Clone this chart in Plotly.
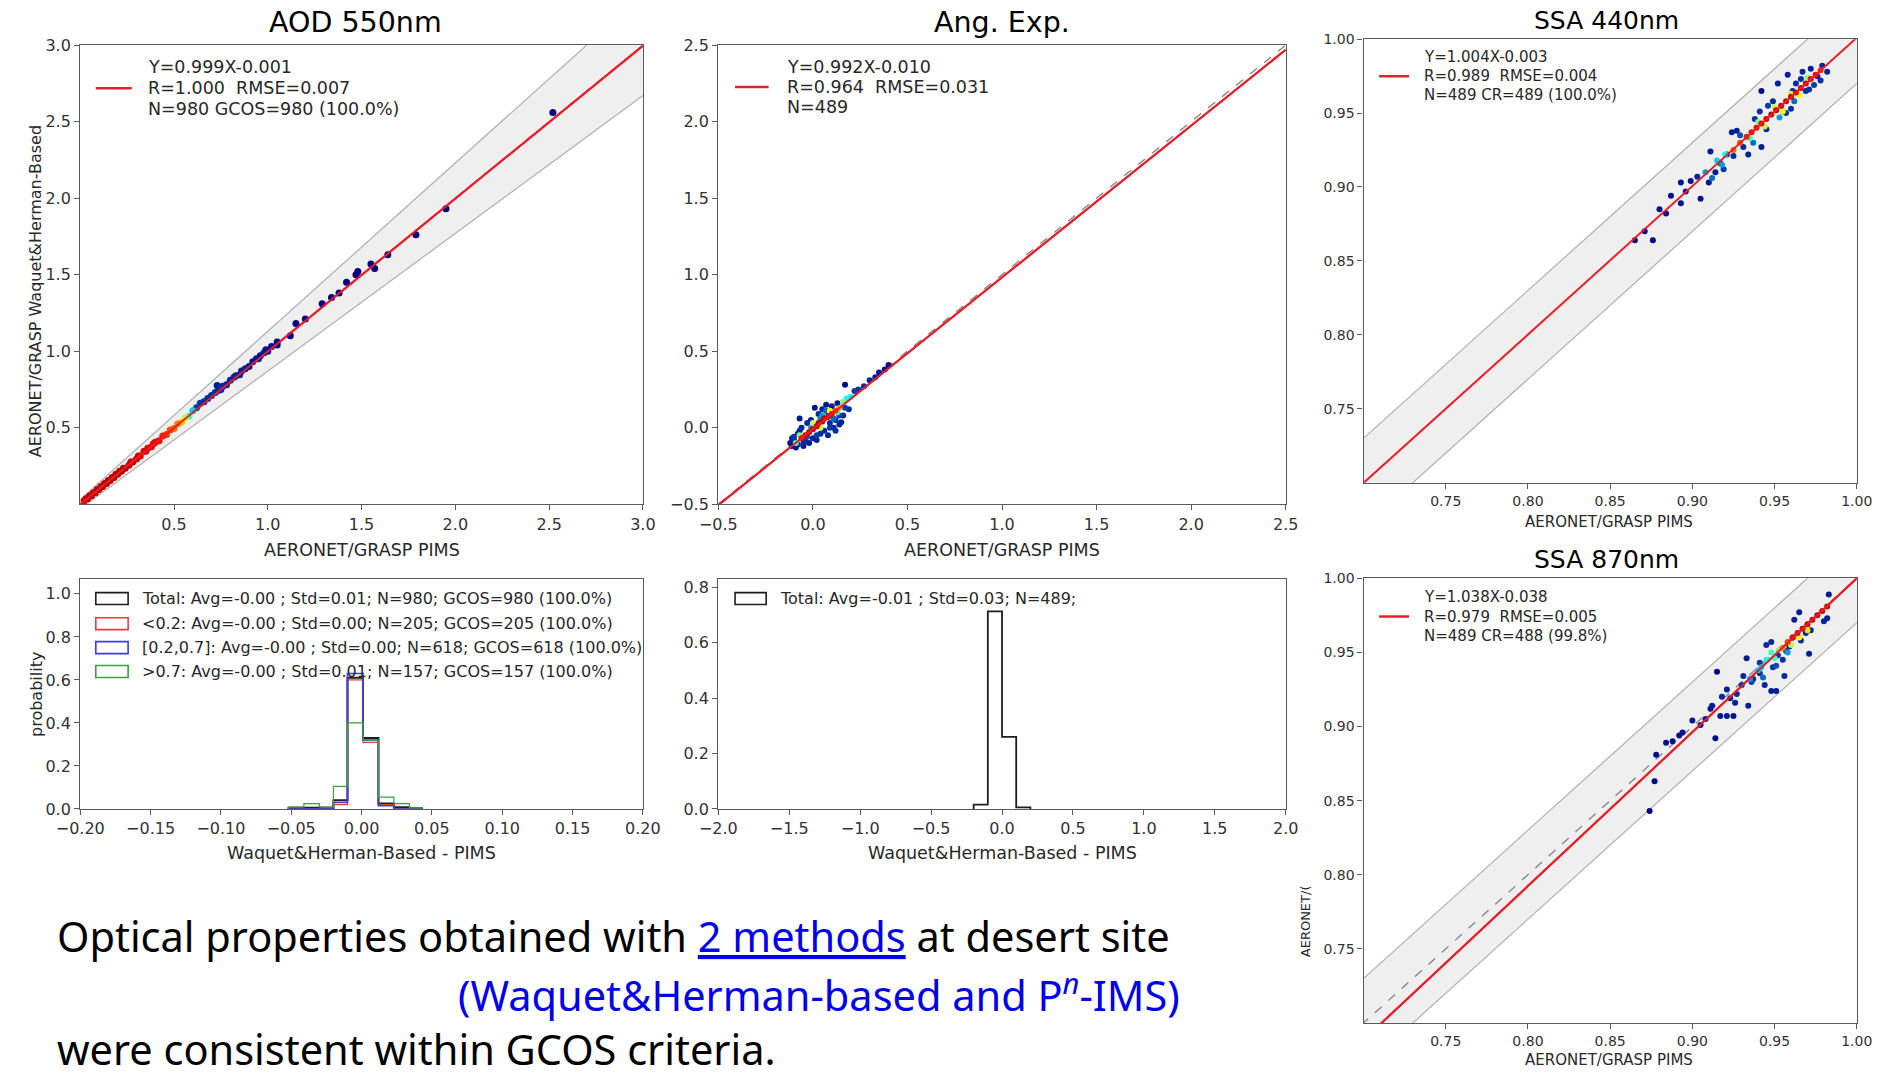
import plotly.graph_objects as go

# Layout positions are given in the coordinates of the reference as seen at 1568x896 (q),
# converted to figure pixels with the page placement observed in the photographs.
RW, RH = 1568, 896
OUT_W, OUT_H = 1879, 1074
W, H = 1920, 1090
SX, OX = 0.9786, 22.6
SY, OY = 0.9853, 8.1


def fx(q):
    return ((q * OUT_W / RW) - OX) / SX


def fy(q):
    return ((q * OUT_H / RH) - OY) / SY


def px(q):
    return max(fx(q), 3) / W


def py(q):
    return 1 - fy(q) / H


# ---------------- data ----------------
# AOD 550nm scatter (PIMS vs Waquet&Herman-based), density 0..1
aod_x = [0.02, 0.03, 0.04, 0.05, 0.06, 0.07, 0.08, 0.09, 0.10, 0.11, 0.12, 0.13, 0.14, 0.15, 0.16, 0.17, 0.18, 0.19,
         0.20, 0.21, 0.22, 0.23, 0.24, 0.26, 0.27, 0.28, 0.30, 0.31, 0.32, 0.34, 0.35, 0.36, 0.38, 0.39, 0.40, 0.42,
         0.44, 0.46, 0.48, 0.50, 0.52, 0.54, 0.56, 0.58, 0.60,
         0.62, 0.64, 0.66, 0.68, 0.70, 0.72, 0.73, 0.74, 0.75, 0.76, 0.78, 0.80, 0.82, 0.83, 0.85, 0.86, 0.88,
         0.90, 0.92, 0.94, 0.95, 0.96, 0.98, 0.99, 1.00, 1.02, 1.05, 1.05,
         1.12, 1.15, 1.20, 1.29, 1.34, 1.38, 1.42, 1.47, 1.48, 1.55, 1.57, 1.64, 1.79, 1.95, 2.52]
aod_y = [0.02, 0.035, 0.035, 0.055, 0.055, 0.075, 0.075, 0.095, 0.095, 0.115, 0.115, 0.135, 0.135, 0.155, 0.155,
         0.175, 0.175, 0.195, 0.195, 0.215, 0.215, 0.235, 0.235, 0.255, 0.275, 0.275, 0.295, 0.315, 0.315, 0.345,
         0.345, 0.365, 0.375, 0.395, 0.405, 0.415, 0.445, 0.455, 0.485, 0.495, 0.525, 0.535, 0.565, 0.575, 0.61,
         0.63, 0.66, 0.67, 0.69, 0.71, 0.73, 0.775, 0.745, 0.75, 0.77, 0.78, 0.81, 0.83, 0.84, 0.845, 0.87, 0.885,
         0.90, 0.93, 0.95, 0.95, 0.97, 0.99, 1.01, 1.00, 1.03, 1.04, 1.06,
         1.10, 1.18, 1.21, 1.31, 1.35, 1.38, 1.45, 1.50, 1.52, 1.57, 1.54, 1.63, 1.76, 1.93, 2.56]
aod_d = [0.85, 0.88, 0.88, 0.9, 0.9, 0.9, 0.9, 0.9, 0.9, 0.9, 0.9, 0.9, 0.9, 0.9, 0.9, 0.9, 0.9, 0.9,
         0.9, 0.9, 0.9, 0.9, 0.9, 0.88, 0.88, 0.88, 0.87, 0.87, 0.86, 0.86, 0.85, 0.85, 0.84, 0.83, 0.82, 0.8,
         0.78, 0.76, 0.74, 0.72, 0.7, 0.64, 0.55, 0.45, 0.35,
         0.2, 0.18, 0.16, 0.15, 0.15, 0.14, 0.1, 0.13, 0.14, 0.13, 0.12, 0.12, 0.11, 0.1, 0.1, 0.1, 0.1,
         0.08, 0.08, 0.08, 0.07, 0.07, 0.06, 0.06, 0.06, 0.05, 0.04, 0.04,
         0.02, 0.02, 0.02, 0.01, 0.01, 0.01, 0.01, 0.0, 0.0, 0.0, 0.0, 0.0, 0.0, 0.0, 0.0]

# Angstrom exponent scatter
ang_x = [-0.06, -0.04, -0.02, 0.0, 0.02, 0.03, 0.05, 0.06, 0.08, 0.10, 0.12, 0.14,
         -0.09, -0.07, 0.0, 0.04, 0.09, 0.13, 0.16, 0.18, 0.20,
         -0.12, -0.11, -0.10, -0.09, -0.08, -0.07, -0.06, -0.05, -0.04, -0.03, -0.02, -0.01, 0.0, 0.01, 0.02,
         0.03, 0.04, 0.05, 0.06, 0.07, 0.08, 0.09, 0.10, 0.11, 0.12, 0.13, 0.14, 0.15, 0.16, 0.17, 0.19,
         0.22, 0.24, 0.27, 0.30, 0.33, 0.35, 0.38, 0.40, -0.07, -0.08, -0.11, 0.08, 0.12,
         -0.10, -0.05, -0.01, 0.02, 0.05, 0.07, 0.11, 0.14, 0.17, -0.03, 0.04, 0.09]
ang_y = [-0.07, -0.05, -0.03, -0.01, 0.01, 0.03, 0.04, 0.06, 0.07, 0.09, 0.11, 0.13,
         -0.10, -0.05, 0.03, 0.0, 0.11, 0.10, 0.17, 0.19, 0.20,
         -0.10, -0.12, -0.08, -0.13, -0.11, -0.02, 0.0, -0.12, -0.09, 0.03, -0.10, 0.05, -0.07, 0.13, -0.08,
         0.09, -0.04, 0.12, -0.02, 0.15, -0.05, 0.03, 0.14, 0.0, 0.05, 0.16, 0.02, 0.035, 0.08, 0.28, 0.12,
         0.24, 0.25, 0.27, 0.31, 0.33, 0.36, 0.38, 0.41, 0.06, -0.04, -0.07, 0.10, -0.02,
         -0.06, -0.10, 0.0, -0.05, 0.08, 0.11, 0.06, 0.08, 0.13, -0.06, 0.06, 0.0]
ang_d = [0.82, 0.85, 0.88, 0.9, 0.9, 0.9, 0.9, 0.88, 0.86, 0.82, 0.75, 0.68,
         0.45, 0.5, 0.55, 0.55, 0.6, 0.45, 0.5, 0.4, 0.38,
         0.08, 0.06, 0.12, 0.06, 0.1, 0.12, 0.14, 0.08, 0.12, 0.14, 0.1, 0.1, 0.12, 0.06, 0.1,
         0.14, 0.14, 0.1, 0.14, 0.08, 0.12, 0.16, 0.1, 0.12, 0.16, 0.08, 0.12, 0.1, 0.14, 0.02, 0.14,
         0.2, 0.18, 0.15, 0.12, 0.1, 0.08, 0.06, 0.05, 0.08, 0.12, 0.1, 0.2, 0.16,
         0.18, 0.14, 0.3, 0.2, 0.3, 0.25, 0.25, 0.2, 0.2, 0.22, 0.28, 0.2]

# SSA 440nm scatter
s440_x = [0.865, 0.876, 0.871, 0.884, 0.887, 0.893, 0.893, 0.899, 0.905, 0.910, 0.911, 0.914, 0.917, 0.921,
          0.924, 0.927, 0.925, 0.931, 0.934, 0.942, 0.942, 0.938, 0.941, 0.945, 0.949, 0.952, 0.955, 0.957,
          0.960, 0.958, 0.961, 0.963, 0.966, 0.969, 0.971, 0.972, 0.976, 0.978, 0.982, 0.979, 0.967,
          0.915, 0.918, 0.920, 0.935, 0.940, 0.944, 0.950, 0.955, 0.960, 0.965, 0.970, 0.908, 0.912,
          0.925, 0.929, 0.933, 0.936, 0.939, 0.942, 0.945, 0.948, 0.951, 0.954, 0.957, 0.960, 0.963, 0.966,
          0.969, 0.972, 0.975, 0.978,
          0.903, 0.919, 0.929, 0.937, 0.946, 0.953, 0.962, 0.974, 0.880, 0.896]
s440_y = [0.864, 0.864, 0.870, 0.882, 0.894, 0.889, 0.903, 0.904, 0.892, 0.903, 0.924, 0.910, 0.916, 0.922,
          0.937, 0.938, 0.921, 0.927, 0.922, 0.927, 0.965, 0.946, 0.951, 0.939, 0.958, 0.970, 0.951, 0.950,
          0.953, 0.976, 0.965, 0.970, 0.973, 0.965, 0.966, 0.980, 0.975, 0.972, 0.978, 0.982, 0.978,
          0.918, 0.915, 0.922, 0.933, 0.944, 0.941, 0.954, 0.951, 0.963, 0.962, 0.974, 0.910, 0.906,
          0.925, 0.930, 0.934, 0.937, 0.940, 0.943, 0.946, 0.949, 0.952, 0.955, 0.958, 0.961, 0.964, 0.967,
          0.970, 0.973, 0.976, 0.979,
          0.907, 0.912, 0.935, 0.930, 0.955, 0.947, 0.958, 0.969, 0.885, 0.897]
s440_d = [0.0, 0.0, 0.02, 0.05, 0.05, 0.06, 0.06, 0.07, 0.05, 0.08, 0.08, 0.1, 0.12, 0.12,
          0.1, 0.1, 0.14, 0.14, 0.12, 0.1, 0.04, 0.16, 0.16, 0.14, 0.15, 0.1, 0.18, 0.18,
          0.16, 0.1, 0.15, 0.15, 0.15, 0.16, 0.16, 0.1, 0.14, 0.16, 0.12, 0.12, 0.14,
          0.35, 0.3, 0.4, 0.45, 0.5, 0.55, 0.55, 0.6, 0.55, 0.6, 0.5, 0.3, 0.25,
          0.72, 0.74, 0.78, 0.8, 0.82, 0.84, 0.86, 0.88, 0.88, 0.88, 0.88, 0.88, 0.86, 0.85,
          0.84, 0.82, 0.8, 0.76,
          0.12, 0.2, 0.22, 0.25, 0.2, 0.3, 0.25, 0.2, 0.06, 0.1]

# SSA 870nm scatter
s870_x = [0.874, 0.877, 0.878, 0.884, 0.888, 0.892, 0.894, 0.900, 0.915, 0.914, 0.911, 0.917, 0.921, 0.925,
          0.921, 0.923, 0.926, 0.934, 0.933, 0.931, 0.937, 0.941, 0.944, 0.948, 0.951, 0.949, 0.956, 0.955,
          0.957, 0.945, 0.948, 0.959, 0.962, 0.965, 0.966, 0.969, 0.971, 0.972, 0.980, 0.982, 0.983, 0.961,
          0.952, 0.941, 0.905, 0.908, 0.912,
          0.940, 0.945, 0.948, 0.950, 0.953, 0.935, 0.942, 0.960, 0.965, 0.970,
          0.955, 0.958, 0.961, 0.964, 0.967, 0.970, 0.973, 0.976, 0.979, 0.982,
          0.927, 0.936, 0.943, 0.951, 0.958, 0.918, 0.930]
s870_y = [0.843, 0.863, 0.881, 0.889, 0.890, 0.894, 0.896, 0.904, 0.937, 0.892, 0.912, 0.907, 0.907, 0.907,
          0.925, 0.919, 0.916, 0.914, 0.946, 0.934, 0.932, 0.936, 0.928, 0.924, 0.924, 0.940, 0.934, 0.945,
          0.951, 0.955, 0.957, 0.954, 0.972, 0.977, 0.958, 0.963, 0.949, 0.965, 0.971, 0.973, 0.989, 0.960,
          0.948, 0.943, 0.901, 0.905, 0.914,
          0.938, 0.945, 0.950, 0.946, 0.952, 0.932, 0.940, 0.955, 0.960, 0.965,
          0.953, 0.957, 0.960, 0.963, 0.966, 0.969, 0.972, 0.975, 0.978, 0.981,
          0.922, 0.930, 0.933, 0.941, 0.950, 0.920, 0.928]
s870_d = [0.0, 0.01, 0.03, 0.05, 0.05, 0.06, 0.06, 0.07, 0.02, 0.03, 0.08, 0.08, 0.08, 0.06,
          0.1, 0.1, 0.1, 0.1, 0.08, 0.14, 0.15, 0.16, 0.12, 0.1, 0.1, 0.15, 0.14, 0.16,
          0.16, 0.15, 0.15, 0.14, 0.1, 0.1, 0.14, 0.14, 0.1, 0.14, 0.12, 0.1, 0.08, 0.16,
          0.18, 0.18, 0.1, 0.1, 0.1,
          0.35, 0.4, 0.45, 0.45, 0.5, 0.3, 0.35, 0.55, 0.6, 0.62,
          0.7, 0.75, 0.8, 0.84, 0.86, 0.88, 0.88, 0.88, 0.86, 0.84,
          0.15, 0.2, 0.25, 0.22, 0.3, 0.12, 0.18]

# fit coefficients (slope, intercept) as printed in the legends
aod_fit = (0.999, -0.001)
ang_fit = (0.992, -0.010)
s440_fit = (1.004, -0.003)
s870_fit = (1.038, -0.038)

# histogram of differences (Waquet&Herman-Based - PIMS), AOD
h1_edges = [-0.052, -0.041, -0.030, -0.020, -0.010, 0.001, 0.012, 0.023, 0.034, 0.043]
h1_total = [0.003, 0.006, 0.003, 0.04, 0.61, 0.33, 0.025, 0.008, 0.003]
h1_lt02 = [0.0, 0.0, 0.0, 0.02, 0.60, 0.31, 0.02, 0.0, 0.0]
h1_mid = [0.0, 0.0, 0.0, 0.03, 0.63, 0.32, 0.015, 0.0, 0.0]
h1_gt07 = [0.01, 0.025, 0.01, 0.105, 0.40, 0.32, 0.055, 0.025, 0.005]
h1_labels = ["Total: Avg=-0.00 ; Std=0.01; N=980; GCOS=980 (100.0%)",
             "<0.2: Avg=-0.00 ; Std=0.00; N=205; GCOS=205 (100.0%)",
             "[0.2,0.7]: Avg=-0.00 ; Std=0.00; N=618; GCOS=618 (100.0%)",
             ">0.7: Avg=-0.00 ; Std=0.01; N=157; GCOS=157 (100.0%)"]

# histogram of differences, Angstrom exponent
h2_edges = [-0.2, -0.1, 0.0, 0.1, 0.2]
h2_total = [0.016, 0.713, 0.26, 0.006]
h2_label = "Total: Avg=-0.01 ; Std=0.03; N=489;"

aod_leg = ["Y=0.999X-0.001", "R=1.000  RMSE=0.007", "N=980 GCOS=980 (100.0%)"]
ang_leg = ["Y=0.992X-0.010", "R=0.964  RMSE=0.031", "N=489"]
s440_leg = ["Y=1.004X-0.003", "R=0.989  RMSE=0.004", "N=489 CR=489 (100.0%)"]
s870_leg = ["Y=1.038X-0.038", "R=0.979  RMSE=0.005", "N=489 CR=488 (99.8%)"]

# ---------------- figure ----------------
FONT = "DejaVu Sans"
RED = "rgb(232,30,40)"
BAND_FILL = "rgba(225,225,225,0.55)"
BAND_LINE = "rgb(175,175,175)"

fig = go.Figure()

domains = {
    1: ([65, 535], [37, 421]),
    2: ([598, 1072], [37, 421]),
    3: ([1137, 1549], [32, 403]),
    4: ([65, 535], [484, 676]),
    5: ([598, 1072], [484, 676]),
    6: ([1137, 1549], [483, 855]),
}

def axn(i, k):
    return k if i == 1 else f"{k}{i}"

def refs(i):
    return ("x" if i == 1 else f"x{i}"), ("y" if i == 1 else f"y{i}")


def add_band(i, lo, hi, absolute, rel):
    xr, yr = refs(i)
    xs = [lo, hi]
    up = [x + absolute + rel * x for x in xs]
    dn = [x - absolute - rel * x for x in xs]
    fig.add_trace(go.Scatter(x=xs + xs[::-1], y=up + dn[::-1], fill="toself", fillcolor=BAND_FILL,
                             line=dict(width=0), mode="lines", hoverinfo="skip", showlegend=False,
                             xaxis=xr, yaxis=yr))
    for b in (up, dn):
        fig.add_trace(go.Scatter(x=xs, y=b, mode="lines", line=dict(color=BAND_LINE, width=1.2),
                                 hoverinfo="skip", showlegend=False, xaxis=xr, yaxis=yr))


def add_scatter(i, xs, ys, ds, size):
    xr, yr = refs(i)
    order = sorted(range(len(xs)), key=lambda k: ds[k])
    fig.add_trace(go.Scatter(x=[xs[k] for k in order], y=[ys[k] for k in order], mode="markers",
                             marker=dict(size=size, color=[ds[k] for k in order], colorscale="Jet",
                                         cmin=0, cmax=1, line=dict(width=0)),
                             showlegend=False, xaxis=xr, yaxis=yr))


def add_lines(i, lo, hi, fit, dashed_one=True):
    xr, yr = refs(i)
    if dashed_one:
        fig.add_trace(go.Scatter(x=[lo, hi], y=[lo, hi], mode="lines",
                                 line=dict(color="rgb(130,130,130)", width=1.3, dash="dash"),
                                 showlegend=False, xaxis=xr, yaxis=yr))
    a, b = fit
    fig.add_trace(go.Scatter(x=[lo, hi], y=[a * lo + b, a * hi + b], mode="lines",
                             line=dict(color=RED, width=2), showlegend=False, xaxis=xr, yaxis=yr))


# AOD
add_band(1, 0, 3.2, 0.03, 0.10)
add_lines(1, 0, 3.0, aod_fit)
add_scatter(1, aod_x, aod_y, aod_d, 7)
add_lines(1, 0, 3.0, aod_fit, dashed_one=False)
# Angstrom
add_lines(2, -0.5, 2.5, ang_fit)
add_scatter(2, ang_x, ang_y, ang_d, 6)
add_lines(2, -0.5, 2.5, ang_fit, dashed_one=False)
# SSA 440
add_band(3, 0.65, 1.05, 0.03, 0.0)
add_scatter(3, s440_x, s440_y, s440_d, 6)
add_lines(3, 0.65, 1.05, s440_fit, dashed_one=False)
# SSA 870
add_band(6, 0.65, 1.05, 0.03, 0.0)
add_lines(6, 0.65, 1.05, s870_fit)
add_scatter(6, s870_x, s870_y, s870_d, 6)
add_lines(6, 0.65, 1.05, s870_fit, dashed_one=False)


def add_step(i, edges, heights, color, width):
    xr, yr = refs(i)
    xs = [edges[0]] + list(edges)
    ys = [0] + list(heights) + [0]
    fig.add_trace(go.Scatter(x=xs, y=ys, mode="lines", line=dict(color=color, width=width, shape="hv"),
                             showlegend=False, xaxis=xr, yaxis=yr))


add_step(4, h1_edges, h1_total, "rgb(30,30,30)", 2)
add_step(4, h1_edges, h1_lt02, "rgb(235,60,60)", 1.2)
add_step(4, h1_edges, h1_mid, "rgb(60,60,230)", 1.6)
add_step(4, h1_edges, h1_gt07, "rgb(60,160,60)", 1.2)
add_step(5, h2_edges, h2_total, "rgb(30,30,30)", 1.8)

# axes
ranges = {
    1: ([0, 3.0], [0, 3.0], [0.5, 1.0, 1.5, 2.0, 2.5, 3.0], [0.5, 1.0, 1.5, 2.0, 2.5, 3.0], ".1f", ".1f", 16),
    2: ([-0.5, 2.5], [-0.5, 2.5], [-0.5, 0, 0.5, 1.0, 1.5, 2.0, 2.5], [-0.5, 0, 0.5, 1.0, 1.5, 2.0, 2.5], ".1f", ".1f", 16),
    3: ([0.70, 1.0], [0.70, 1.0], [0.75, 0.80, 0.85, 0.90, 0.95, 1.0], [0.75, 0.80, 0.85, 0.90, 0.95, 1.0], ".2f", ".2f", 14),
    4: ([-0.2, 0.2], [0, 1.067], [-0.2, -0.15, -0.1, -0.05, 0, 0.05, 0.1, 0.15, 0.2], [0, 0.2, 0.4, 0.6, 0.8, 1.0], ".2f", ".1f", 16),
    5: ([-2, 2], [0, 0.828], [-2, -1.5, -1, -0.5, 0, 0.5, 1, 1.5, 2], [0, 0.2, 0.4, 0.6, 0.8], ".1f", ".1f", 16),
    6: ([0.70, 1.0], [0.70, 1.0], [0.75, 0.80, 0.85, 0.90, 0.95, 1.0], [0.75, 0.80, 0.85, 0.90, 0.95, 1.0], ".2f", ".2f", 14),
}
layout = {}
for i, (dx, dy) in domains.items():
    xrng, yrng, xt, yt, xf, yf, fs = ranges[i]
    common = dict(showline=True, mirror=True, linecolor="rgb(90,90,90)", linewidth=1.4, ticks="outside",
                  ticklen=5, tickwidth=1.2, tickcolor="rgb(90,90,90)", showgrid=False, zeroline=False,
                  tickfont=dict(family=FONT, size=fs, color="rgb(50,50,50)"))
    xr, yr = refs(i)
    layout[axn(i, "xaxis")] = dict(common, domain=[px(dx[0]), px(dx[1])], range=xrng, tickvals=xt,
                                   tickformat=xf, anchor=yr)
    layout[axn(i, "yaxis")] = dict(common, domain=[py(dy[1]), py(dy[0])], range=yrng, tickvals=yt,
                                   tickformat=yf, anchor=xr)
fig.update_layout(**layout)

ann = []
def text(x, y, s, size, xanchor="center", angle=0, color="rgb(40,40,40)", family=FONT, minx=0):
    xp = max(px(x), minx / W)
    ann.append(dict(x=xp, y=py(y), xref="paper", yref="paper", text=s, showarrow=False,
                    xanchor=xanchor, yanchor="middle", textangle=angle,
                    font=dict(family=family, size=size, color=color)))

# titles
text(295, 18, "AOD 550nm", 28.5, color="black")
text(835, 18, "Ang. Exp.", 28.5, color="black")
text(1340, 16, "SSA 440nm", 25, color="black")
text(1340, 467, "SSA 870nm", 25, color="black")
# axis labels
text(300, 459, "AERONET/GRASP PIMS", 17.5)
text(835, 459, "AERONET/GRASP PIMS", 17.5)
text(1342, 436, "AERONET/GRASP PIMS", 15)
text(1342, 886, "AERONET/GRASP PIMS", 15)
text(300, 713, "Waquet&amp;Herman-Based - PIMS", 17.5)
text(835, 713, "Waquet&amp;Herman-Based - PIMS", 17.5)
text(15, 243, "AERONET/GRASP Waquet&amp;Herman-Based", 16, angle=-90, minx=11)
text(17, 580, "probability", 16, angle=-90, minx=11)
text(1088, 770, "AERONET/(", 13, angle=-90)

shapes = []
def leg_line(x0, x1, y):
    shapes.append(dict(type="line", xref="paper", yref="paper", x0=px(x0), x1=px(x1), y0=py(y), y1=py(y),
                       line=dict(color=RED, width=2.5)))

def leg_box(x0, x1, y, color):
    shapes.append(dict(type="rect", xref="paper", yref="paper", x0=px(x0), x1=px(x1), y0=py(y - 5),
                       y1=py(y + 5), line=dict(color=color, width=1.6), fillcolor="white"))

# scatter legends
for (lx0, lx1, tx, ys, lines, fs) in [
    (78, 108, 120, [55, 73, 90], aod_leg, 17.5),
    (612, 640, 654, [55, 72, 89], ang_leg, 17.5),
    (1150, 1175, 1186, [47, 63, 79], s440_leg, 15),
    (1150, 1175, 1186, [499, 515, 531], s870_leg, 15),
]:
    leg_line(lx0, lx1, ys[1])
    for yy, s in zip(ys, lines):
        text(tx, yy, s, fs, xanchor="left")

# histogram legends
for k, (yy, s, c) in enumerate(zip([500, 521, 541, 561], h1_labels,
                                    ["rgb(30,30,30)", "rgb(235,60,60)", "rgb(60,60,230)", "rgb(60,160,60)"])):
    leg_box(78, 105, yy, c)
    text(115, yy, s.replace("&", "&amp;").replace("<", "&lt;").replace(">", "&gt;"), 16, xanchor="left")
leg_box(612, 638, 500, "rgb(30,30,30)")
text(648, 500, h2_label, 16, xanchor="left")

# bottom text
BODY = "Noto Sans"
text(44, 782, "Optical properties obtained with <span style='color:#0000ee'><u>2 methods</u></span> at desert site",
     41.5, xanchor="left", color="black", family=BODY)
text(985, 830, "(Waquet&amp;Herman-based and P<sup><i>n</i></sup>-IMS)", 41.5, xanchor="right",
     color="#0000ee", family=BODY)
text(44, 877, "were consistent within GCOS criteria.", 41.5, xanchor="left", color="black", family=BODY)

fig.update_layout(width=W, height=H, margin=dict(l=0, r=0, t=0, b=0), paper_bgcolor="white",
                  plot_bgcolor="white", showlegend=False, annotations=ann, shapes=shapes)

fig.write_html("out.html")
